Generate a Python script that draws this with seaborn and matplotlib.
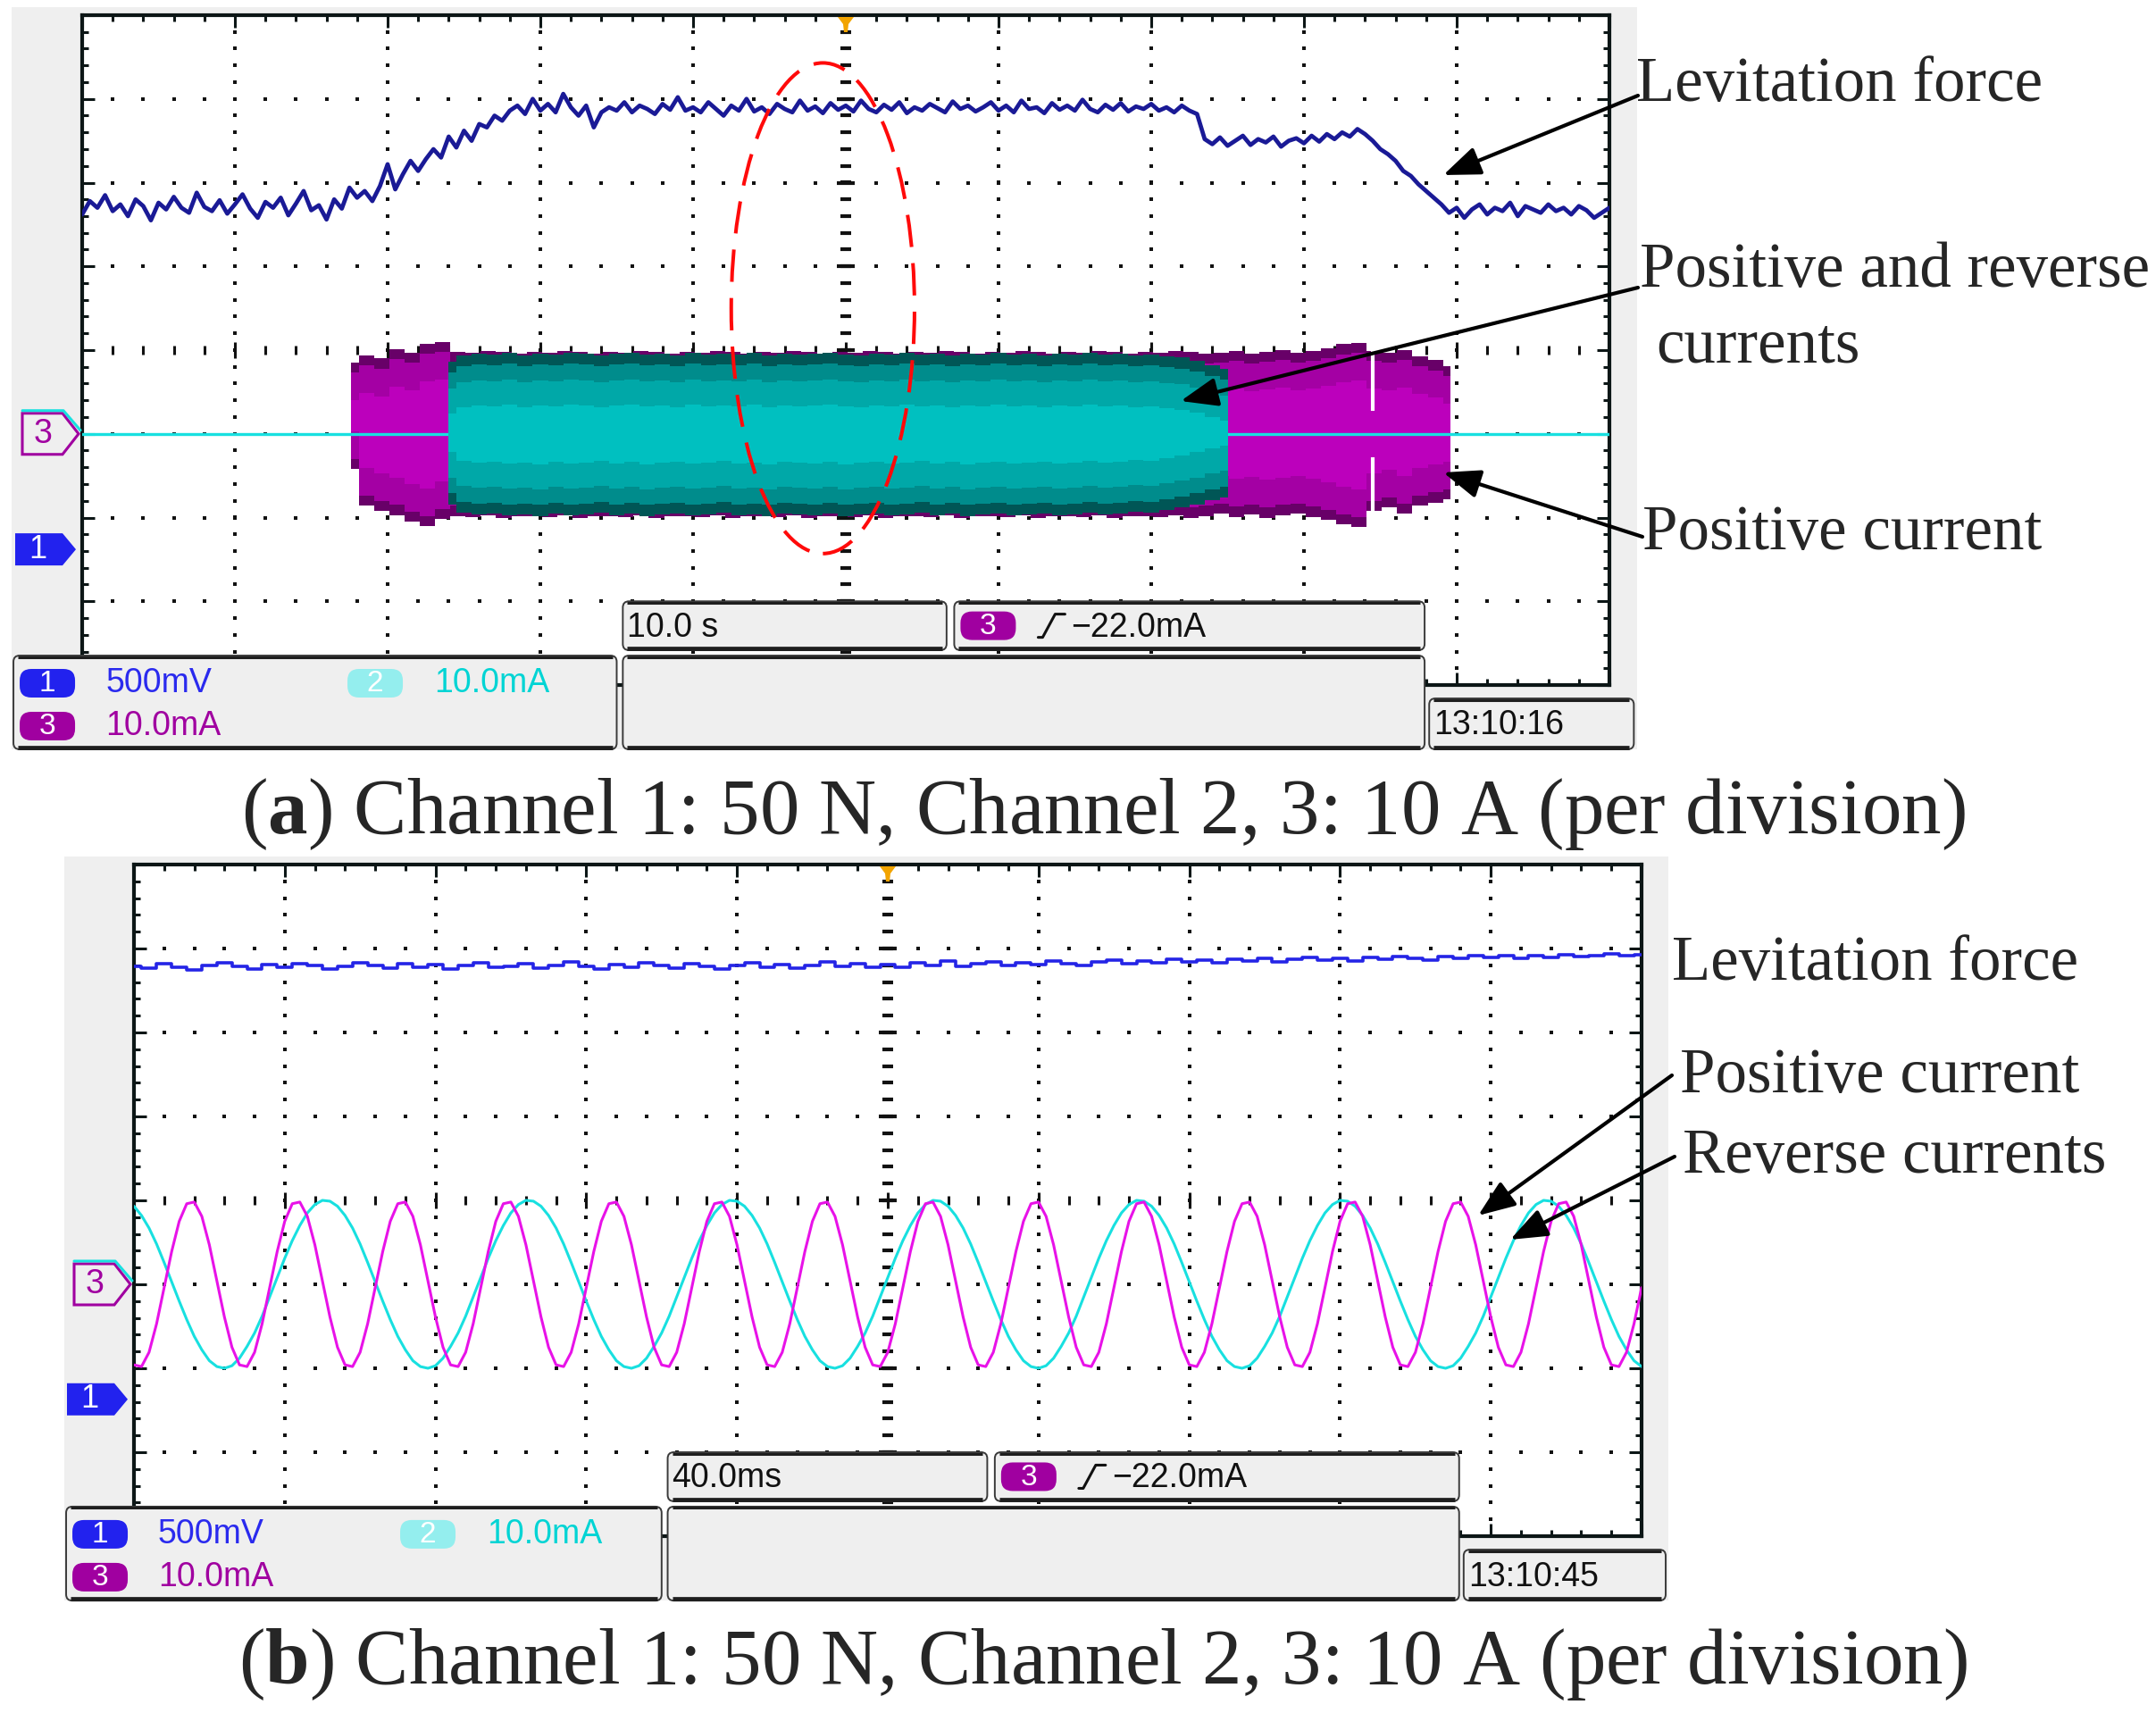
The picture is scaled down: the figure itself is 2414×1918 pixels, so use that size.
import numpy as np
import pandas as pd
import matplotlib
matplotlib.use("Agg")
import matplotlib.pyplot as plt
from matplotlib.patches import Rectangle, FancyBboxPatch, Polygon, Ellipse
import seaborn as sns

sns.set_style("white")
plt.rcParams["mathtext.fontset"] = "custom"
plt.rcParams["mathtext.rm"] = "Liberation Serif"
plt.rcParams["mathtext.bf"] = "Liberation Serif:bold"

SERIF = ["Liberation Serif", "DejaVu Serif"]
SCOPE = ["Liberation Sans Narrow", "Liberation Sans", "DejaVu Sans"]

# ---------- data, in screen divisions (10 x 8 graticule, 0 = centre line) ----------
sample_div = 0.05   # spacing of the stored samples along x

# (a) 10.0 s/div : channel 1, levitation force
force_a = [
    1.62, 1.78, 1.70, 1.85, 1.66, 1.74, 1.60, 1.80, 1.72, 1.55, 1.76, 1.68, 1.83, 1.70, 1.64, 1.88, 1.71, 1.66, 1.79, 1.63,
    1.74, 1.86, 1.69, 1.58, 1.77, 1.70, 1.82, 1.61, 1.75, 1.90, 1.67, 1.73, 1.56, 1.80, 1.69, 1.94, 1.82, 1.90, 1.78, 1.96,
    2.22, 1.92, 2.10, 2.26, 2.14, 2.28, 2.40, 2.30, 2.55, 2.42, 2.62, 2.50, 2.70, 2.66, 2.80, 2.74, 2.86, 2.92, 2.82, 3.00,
    2.86, 2.94, 2.84, 3.06, 2.90, 2.80, 2.92, 2.66, 2.84, 2.90, 2.86, 2.96, 2.84, 2.92, 2.88, 2.82, 2.94, 2.87, 3.02, 2.86,
    2.90, 2.84, 2.96, 2.88, 2.80, 2.92, 2.86, 3.00, 2.85, 2.90, 2.82, 2.94, 2.88, 2.84, 2.98, 2.86, 2.91, 2.83, 2.95, 2.87,
    2.92, 2.85, 2.98, 2.88, 2.84, 2.93, 2.87, 2.96, 2.83, 2.90, 2.86, 2.94, 2.89, 2.84, 2.97, 2.88, 2.92, 2.85, 2.90, 2.96,
    2.86, 2.92, 2.84, 2.98, 2.88, 2.90, 2.83, 2.95, 2.87, 2.92, 2.86, 2.99, 2.88, 2.84, 2.93, 2.87, 2.95, 2.85, 2.91, 2.88,
    2.94, 2.86, 2.90, 2.84, 2.92, 2.86, 2.82, 2.52, 2.46, 2.54, 2.44, 2.50, 2.56, 2.45, 2.52, 2.48, 2.55, 2.43, 2.50, 2.53,
    2.47, 2.56, 2.49, 2.58, 2.52, 2.60, 2.55, 2.64, 2.58, 2.50, 2.40, 2.34, 2.26, 2.14, 2.08, 1.98, 1.90, 1.82, 1.74, 1.64,
    1.70, 1.58, 1.68, 1.74, 1.62, 1.70, 1.66, 1.76, 1.60, 1.72, 1.68, 1.64, 1.74, 1.66, 1.70, 1.62, 1.72, 1.67, 1.58, 1.64,
    1.70,
]

# (a) current bursts, drawn as envelopes in 0.1 div columns
env_step = 0.1
pos_a_start = 1.76   # channel 3, positive current
pos_a_top = [
    -0.15, -0.06, -0.10, 0.01, -0.03, 0.08, 0.10,
    -0.02, -0.03, -0.01, -0.02, -0.04, -0.02, -0.03, -0.01, -0.02, -0.04,
    -0.02, -0.03, -0.01, -0.02, -0.04, -0.02, -0.03, -0.01, -0.02, -0.04,
    -0.02, -0.03, -0.01, -0.02, -0.04, -0.02, -0.03, -0.01, -0.02, -0.04,
    -0.02, -0.03, -0.01, -0.02, -0.04, -0.02, -0.03, -0.01, -0.02, -0.04,
    -0.02, -0.03, -0.01, -0.02, -0.04, -0.02, -0.03, -0.01, -0.02, -0.04,
    -0.03, -0.01, -0.04, -0.02, 0.00, -0.03, -0.01, 0.02, 0.07, 0.09, -0.01, -0.03, 0.00, -0.07, -0.12, -0.19,
]
pos_a_bot = [
    -1.42, -1.86, -1.92, -1.97, -2.05, -2.10, -2.02,
    -1.98, -1.99, -1.97, -2.00, -1.98, -1.98, -1.99, -1.97, -2.00, -1.98,
    -1.98, -1.99, -1.97, -2.00, -1.98, -1.98, -1.99, -1.97, -2.00, -1.98,
    -1.98, -1.99, -1.97, -2.00, -1.98, -1.98, -1.99, -1.97, -2.00, -1.98,
    -1.98, -1.99, -1.97, -2.00, -1.98, -1.98, -1.99, -1.97, -2.00, -1.98,
    -1.98, -1.99, -1.97, -2.00, -1.98, -1.98, -1.99, -1.97, -2.00, -1.98,
    -1.95, -1.99, -1.96, -2.00, -1.97, -1.95, -1.99, -2.03, -2.08, -2.11, -1.92, -1.88, -1.95, -1.86, -1.82, -1.78,
]
pos_a_dropout = (8.45, -0.73, -1.28)   # x, lower edge of top gap, upper edge of bottom gap

rev_a_start = 2.40   # channel 2, positive and reverse currents
rev_a_top = [
    -0.14, -0.06, -0.04, -0.05, -0.03, -0.06, -0.04, -0.05, -0.03, -0.04,
    -0.06, -0.04, -0.03, -0.05, -0.04, -0.06, -0.03, -0.05, -0.04, -0.05,
    -0.03, -0.06, -0.04, -0.05, -0.04, -0.03, -0.05, -0.06, -0.04, -0.05,
    -0.03, -0.05, -0.04, -0.06, -0.04, -0.05, -0.03, -0.05, -0.04, -0.06,
    -0.04, -0.05, -0.03, -0.05, -0.04, -0.06, -0.05, -0.07, -0.09, -0.13, -0.18, -0.22,
]
rev_a_bot = [
    -1.84, -1.94, -1.96, -1.95, -1.97, -1.96, -1.98, -1.95, -1.97, -1.96,
    -1.94, -1.97, -1.95, -1.98, -1.96, -1.95, -1.97, -1.96, -1.94, -1.97,
    -1.96, -1.98, -1.95, -1.96, -1.97, -1.95, -1.98, -1.96, -1.95, -1.97,
    -1.96, -1.94, -1.97, -1.95, -1.98, -1.96, -1.95, -1.97, -1.96, -1.95,
    -1.97, -1.96, -1.94, -1.96, -1.95, -1.93, -1.94, -1.91, -1.88, -1.84, -1.79, -1.76,
]

# (b) 40.0 ms/div : force sampled every 0.1 div, currents every 0.05 div
force_b_step = 0.1
force_b = [
    2.79, 2.77, 2.82, 2.78, 2.75, 2.80, 2.83, 2.79, 2.76, 2.81,
    2.78, 2.82, 2.80, 2.76, 2.79, 2.83, 2.80, 2.77, 2.82, 2.78,
    2.81, 2.76, 2.80, 2.83, 2.78, 2.79, 2.82, 2.77, 2.80, 2.84,
    2.79, 2.76, 2.81, 2.78, 2.83, 2.80, 2.77, 2.82, 2.79, 2.76,
    2.80, 2.83, 2.78, 2.81, 2.77, 2.80, 2.84, 2.79, 2.82, 2.78,
    2.81, 2.78, 2.83, 2.80, 2.85, 2.79, 2.82, 2.84, 2.80, 2.83,
    2.81, 2.85, 2.82, 2.80, 2.84, 2.86, 2.82, 2.85, 2.83, 2.87,
    2.84, 2.86, 2.83, 2.87, 2.85, 2.88, 2.84, 2.87, 2.89, 2.86,
    2.88, 2.85, 2.89, 2.87, 2.90, 2.88, 2.86, 2.90, 2.88, 2.91,
    2.89, 2.92, 2.88, 2.91, 2.89, 2.93, 2.90, 2.92, 2.94, 2.91,
    2.93,
]
pos_b = [
    -1.96, -1.98, -1.81, -1.47, -1.04, -0.61, -0.25, -0.04, -0.02, -0.19, -0.53, -0.96, -1.39, -1.75,
    -1.96, -1.98, -1.81, -1.47, -1.04, -0.61, -0.25, -0.04, -0.02, -0.19, -0.53, -0.96, -1.39, -1.75,
    -1.96, -1.98, -1.81, -1.47, -1.04, -0.61, -0.25, -0.04, -0.02, -0.19, -0.53, -0.96, -1.39, -1.75,
    -1.96, -1.98, -1.81, -1.47, -1.04, -0.61, -0.25, -0.04, -0.02, -0.19, -0.53, -0.96, -1.39, -1.75,
    -1.96, -1.98, -1.81, -1.47, -1.04, -0.61, -0.25, -0.04, -0.02, -0.19, -0.53, -0.96, -1.39, -1.75,
    -1.96, -1.98, -1.81, -1.47, -1.04, -0.61, -0.25, -0.04, -0.02, -0.19, -0.53, -0.96, -1.39, -1.75,
    -1.96, -1.98, -1.81, -1.47, -1.04, -0.61, -0.25, -0.04, -0.02, -0.19, -0.53, -0.96, -1.39, -1.75,
    -1.96, -1.98, -1.81, -1.47, -1.04, -0.61, -0.25, -0.04, -0.02, -0.19, -0.53, -0.96, -1.39, -1.75,
    -1.96, -1.98, -1.81, -1.47, -1.04, -0.61, -0.25, -0.04, -0.02, -0.19, -0.53, -0.96, -1.39, -1.75,
    -1.96, -1.98, -1.81, -1.47, -1.04, -0.61, -0.25, -0.04, -0.02, -0.19, -0.53, -0.96, -1.39, -1.75,
    -1.96, -1.98, -1.81, -1.47, -1.04, -0.61, -0.25, -0.04, -0.02, -0.19, -0.53, -0.96, -1.39, -1.75,
    -1.96, -1.98, -1.81, -1.47, -1.04, -0.61, -0.25, -0.04, -0.02, -0.19, -0.53, -0.96, -1.39, -1.75,
    -1.96, -1.98, -1.81, -1.47, -1.04, -0.61, -0.25, -0.04, -0.02, -0.19, -0.53, -0.96, -1.39, -1.75,
    -1.96, -1.98, -1.81, -1.47, -1.04, -0.61, -0.25, -0.04, -0.02, -0.19, -0.53, -0.96, -1.39, -1.75,
    -1.96, -1.98, -1.81, -1.47, -1.04,
]
rev_b = [
    -0.07, -0.18, -0.33, -0.52, -0.74, -0.97, -1.20, -1.42, -1.62, -1.78, -1.91, -1.98, -2.00, -1.97,
    -1.88, -1.74, -1.58, -1.38, -1.15, -0.92, -0.69, -0.48, -0.30, -0.15, -0.05, 0.00, -0.01,
    -0.07, -0.18, -0.33, -0.52, -0.74, -0.97, -1.20, -1.42, -1.62, -1.78, -1.91, -1.98, -2.00, -1.97,
    -1.88, -1.74, -1.58, -1.38, -1.15, -0.92, -0.69, -0.48, -0.30, -0.15, -0.05, 0.00, -0.01,
    -0.07, -0.18, -0.33, -0.52, -0.74, -0.97, -1.20, -1.42, -1.62, -1.78, -1.91, -1.98, -2.00, -1.97,
    -1.88, -1.74, -1.58, -1.38, -1.15, -0.92, -0.69, -0.48, -0.30, -0.15, -0.05, 0.00, -0.01,
    -0.07, -0.18, -0.33, -0.52, -0.74, -0.97, -1.20, -1.42, -1.62, -1.78, -1.91, -1.98, -2.00, -1.97,
    -1.88, -1.74, -1.58, -1.38, -1.15, -0.92, -0.69, -0.48, -0.30, -0.15, -0.05, 0.00, -0.01,
    -0.07, -0.18, -0.33, -0.52, -0.74, -0.97, -1.20, -1.42, -1.62, -1.78, -1.91, -1.98, -2.00, -1.97,
    -1.88, -1.74, -1.58, -1.38, -1.15, -0.92, -0.69, -0.48, -0.30, -0.15, -0.05, 0.00, -0.01,
    -0.07, -0.18, -0.33, -0.52, -0.74, -0.97, -1.20, -1.42, -1.62, -1.78, -1.91, -1.98, -2.00, -1.97,
    -1.88, -1.74, -1.58, -1.38, -1.15, -0.92, -0.69, -0.48, -0.30, -0.15, -0.05, 0.00, -0.01,
    -0.07, -0.18, -0.33, -0.52, -0.74, -0.97, -1.20, -1.42, -1.62, -1.78, -1.91, -1.98, -2.00, -1.97,
    -1.88, -1.74, -1.58, -1.38, -1.15, -0.92, -0.69, -0.48, -0.30, -0.15, -0.05, 0.00, -0.01,
    -0.07, -0.18, -0.33, -0.52, -0.74, -0.97, -1.20, -1.42, -1.62, -1.78, -1.91, -1.98,
]

ch3_level = [-1.0, -1.0]      # ground marker of channels 2/3, panels a and b
ch1_level = [-2.38, -2.37]    # ground marker of channel 1
ellipse_a = (4.85, 0.50, 1.20, 5.86)   # centre x, centre y, width, height

scale_labels = ["500mV", "10.0mA", "10.0mA"]
trigger_label = "\u221222.0mA"
timebase_labels = ["10.0 s", "40.0ms"]
clock_labels = ["13:10:16", "13:10:45"]
captions = [r"($\mathbf{a}$) Channel 1: 50 N, Channel 2, 3: 10 A (per division)",
            r"($\mathbf{b}$) Channel 1: 50 N, Channel 2, 3: 10 A (per division)"]

# ---------- colours ----------
INK = "#0c1616"
BLUE_A, BLUE_B = "#1a1a96", "#2424e6"
CYAN, MAG = "#18e0e0", "#e812e8"
PURPLE = "#a000a0"
GREY = "#efefef"

# ---------- figure, background and overlay layers in pixel units ----------
FW, FH = 2414, 1918
fig = plt.figure(figsize=(FW / 100, FH / 100), dpi=100)
fig.patch.set_facecolor("white")

bg = fig.add_axes([0, 0, 1, 1], zorder=-5)
ov = fig.add_axes([0, 0, 1, 1], zorder=5)
for a in (bg, ov):
    a.set_xlim(0, FW)
    a.set_ylim(FH, 0)
    a.axis("off")
ov.patch.set_visible(False)


def plot_axes(frame):
    x0, y0, x1, y1 = frame
    ax = fig.add_axes([x0 / FW, 1 - y1 / FH, (x1 - x0) / FW, (y1 - y0) / FH], zorder=0)
    ax.set_xlim(0, 10)
    ax.set_ylim(-4, 4)
    fx = np.arange(0, 10.001, 0.2)
    fy = np.arange(-4, 4.001, 0.2)
    ax.set_xticks(np.arange(0, 11))
    ax.set_xticks(fx, minor=True)
    ax.set_yticks(np.arange(-4, 5))
    ax.set_yticks(fy, minor=True)
    ax.tick_params(which="both", direction="in", top=True, right=True, bottom=True, left=True,
                   labelbottom=False, labelleft=False, color=INK, width=2.2)
    ax.tick_params(which="major", length=10)
    ax.tick_params(which="minor", length=5)
    for s in ax.spines.values():
        s.set_color(INK)
        s.set_linewidth(3)
    # dotted graticule
    dot = dict(ls="none", marker="s", ms=2.4, mew=0, color="#111111", zorder=1)
    for gx in (1, 2, 3, 4, 6, 7, 8, 9):
        ax.plot(np.full(fy.size, gx), fy, **dot)
    for gy in (-3, -2, -1, 1, 2, 3):
        ax.plot(fx, np.full(fx.size, gy), **dot)
    ax.plot(fx, np.zeros(fx.size), ls="none", marker="|", ms=6.5, mew=2.2, color="#111111", zorder=1)
    ax.plot(np.arange(1, 10), np.zeros(9), ls="none", marker="|", ms=13, mew=2.2, color="#111111", zorder=1)
    ax.plot(np.full(fy.size, 5), fy, ls="none", marker="_", ms=9, mew=3, color="#111111", zorder=1)
    ax.plot(np.full(7, 5), np.arange(-3, 4), ls="none", marker="_", ms=14, mew=3, color="#111111", zorder=1)
    return ax


def tidy(ax):
    ax.set_xlim(0, 10)
    ax.set_ylim(-4, 4)
    ax.set_xlabel("")
    ax.set_ylabel("")


def rbox(xl, yt, xr, yb, r=7):
    ov.add_patch(FancyBboxPatch((xl, yt), xr - xl, yb - yt,
                                boxstyle=f"round,pad=0,rounding_size={r}",
                                fc=GREY, ec="#3a3a3a", lw=1.4, zorder=2))
    ov.plot([xl + 5, xr - 5], [yt + 1.5, yt + 1.5], color="#1e1e1e", lw=2.2, zorder=3, solid_capstyle="butt")
    ov.plot([xl + 5, xr - 5], [yb - 2, yb - 2], color="#1e1e1e", lw=3.4, zorder=3, solid_capstyle="butt")


def badge(cx, cy, num, color):
    w, h = 62, 32
    ov.add_patch(FancyBboxPatch((cx - w / 2, cy - h / 2), w, h,
                                boxstyle="round,pad=0,rounding_size=13",
                                fc=color, ec="none", zorder=4))
    ov.text(cx, cy + 1, num, color="white", fontsize=24, ha="center", va="center", family=SCOPE, zorder=5)


def scope_chrome(frame, k):
    x0, y0, x1, y1 = frame
    W, H = x1 - x0, y1 - y0
    # grey scope window behind the graticule
    bg.add_patch(Rectangle((x0 - 0.046 * W, y0 - 0.012 * H), 1.064 * W, 1.108 * H, fc=GREY, ec="none"))

    # info boxes
    b1 = (x0 - 0.045 * W, y0 + 0.956 * H, x0 + 0.350 * W, y0 + 1.096 * H)
    b2 = (x0 + 0.354 * W, y0 + 0.875 * H, x0 + 0.566 * W, y0 + 0.948 * H)
    b3 = (x0 + 0.571 * W, y0 + 0.875 * H, x0 + 0.879 * W, y0 + 0.948 * H)
    b4 = (x0 + 0.354 * W, b1[1], x0 + 0.879 * W, b1[3])
    b5 = (x0 + 0.882 * W, y0 + 1.020 * H, x1 + 0.016 * W, b1[3])
    for b in (b1, b2, b3, b4, b5):
        rbox(*b)
    fs = 27
    r1, r2 = b1[1] + 31, b1[1] + 79
    badge(b1[0] + 38, r1, "1", "#2222ee")
    ov.text(b1[0] + 103, r1, scale_labels[0], color="#2a2aee", fontsize=fs, va="center", family=SCOPE, zorder=5)
    badge(b1[0] + 405, r1, "2", "#94eeee")
    ov.text(b1[0] + 471, r1, scale_labels[1], color="#00d4d4", fontsize=fs, va="center", family=SCOPE, zorder=5)
    badge(b1[0] + 38, r2, "3", PURPLE)
    ov.text(b1[0] + 103, r2, scale_labels[2], color=PURPLE, fontsize=fs, va="center", family=SCOPE, zorder=5)

    c2 = (b2[1] + b2[3]) / 2
    ov.text(b2[0] + 5, c2 + 2, timebase_labels[k], color="#111111", fontsize=fs, va="center", family=SCOPE, zorder=5)
    badge(b3[0] + 38, c2, "3", PURPLE)
    tx = b3[0] + 94
    ov.plot([tx, tx + 5, tx + 19, tx + 30], [c2 + 13, c2 + 13, c2 - 13, c2 - 13], color="#111111", lw=2.2, zorder=5)
    ov.text(b3[0] + 131, c2 + 2, trigger_label, color="#111111", fontsize=fs, va="center", family=SCOPE, zorder=5)
    ov.text(b5[0] + 5, (b5[1] + b5[3]) / 2 + 2, clock_labels[k], color="#111111", fontsize=fs,
            va="center", family=SCOPE, zorder=5)

    # ground markers on the left edge
    yc3 = y0 + (4 - ch3_level[k]) * H / 8
    ov.add_patch(Polygon([(x0 - 67, yc3 - 23), (x0 - 22, yc3 - 23), (x0 - 4, yc3), (x0 - 22, yc3 + 23),
                          (x0 - 67, yc3 + 23)], closed=True, fc=GREY, ec=PURPLE, lw=2.2, zorder=4))
    ov.plot([x0 - 67, x0 - 21, x0 - 2], [yc3 - 26, yc3 - 26, yc3 - 4], color=CYAN, lw=2.2, zorder=4)
    ov.text(x0 - 44, yc3, "3", color=PURPLE, fontsize=27, ha="center", va="center", family=SCOPE, zorder=5)
    yc1 = y0 + (4 - ch1_level[k]) * H / 8
    ov.add_patch(Polygon([(x0 - 75, yc1 - 18), (x0 - 22, yc1 - 18), (x0 - 7, yc1), (x0 - 22, yc1 + 18),
                          (x0 - 75, yc1 + 18)], closed=True, fc="#2222ee", ec="none", zorder=4))
    ov.text(x0 - 50, yc1, "1", color="white", fontsize=26, ha="center", va="center", family=SCOPE, zorder=5)

    # trigger position marker
    xc = x0 + W / 2
    ov.add_patch(Polygon([(xc - 9, y0 + 2), (xc + 9, y0 + 2), (xc + 3, y0 + 10), (xc + 2, y0 + 19),
                          (xc - 2, y0 + 19), (xc - 3, y0 + 10)], closed=True, fc="#f2a400", ec="none", zorder=4))

    # caption
    ov.text(FW / 2 + 28, y1 + 144, captions[k], fontsize=64, family=SERIF, ha="center", va="center", zorder=5)


def note(text, x, y):
    ov.text(x, y, text, fontsize=51, family=SERIF, ha="left", va="center", zorder=6)


def arrow(tail, head):
    ov.annotate("", xy=head, xytext=tail, zorder=6,
                arrowprops=dict(arrowstyle="-|>,head_length=0.9,head_width=0.35", color="black",
                                lw=3.0, shrinkA=0, shrinkB=0, mutation_scale=28))


# ======================= panel (a) =======================
frame_a = (92, 17, 1802, 767)
ax_a = plot_axes(frame_a)

t_pos = pos_a_start + env_step * np.arange(len(pos_a_top))
p_top, p_bot = np.array(pos_a_top), np.array(pos_a_bot)
ax_a.fill_between(t_pos, p_bot, p_top, step="mid", color="#680068", lw=0, zorder=2)
ax_a.fill_between(t_pos, p_bot + 0.12, p_top - 0.12, step="mid", color="#a400a4", lw=0, zorder=2)
ax_a.fill_between(t_pos, p_bot + 0.45, p_top - 0.45, where=(p_top - p_bot) > 1.0, step="mid",
                  color="#bc00bc", lw=0, zorder=2)
ax_a.vlines(pos_a_dropout[0], pos_a_dropout[1], 0.2, color="white", lw=3.0, zorder=2)
ax_a.vlines(pos_a_dropout[0], -2.2, pos_a_dropout[2], color="white", lw=3.0, zorder=2)

ax_a.axhline(ch3_level[0], color=CYAN, lw=2.4, zorder=3)

t_rev = rev_a_start + env_step * np.arange(len(rev_a_top))
r_top, r_bot = np.array(rev_a_top), np.array(rev_a_bot)
for off, col in ((0.0, "#005656"), (0.13, "#008c8c"), (0.32, "#00a8a8"), (0.62, "#00c0c0")):
    ax_a.fill_between(t_rev, r_bot + off, r_top - off, where=(r_top - r_bot) > 2 * off + 0.05,
                      step="mid", color=col, lw=0, zorder=4)

df_a = pd.DataFrame({"t": np.arange(len(force_a)) * sample_div, "force": force_a})
sns.lineplot(data=df_a, x="t", y="force", ax=ax_a, color=BLUE_A, linewidth=3.4,
             estimator=None, sort=False, legend=False, zorder=5)

cx, cy, ew, eh = ellipse_a
ax_a.add_patch(Ellipse((cx, cy), ew, eh, fill=False, ec="#ff0a0a", lw=2.9, ls=(0, (9, 4.5)), zorder=7))
tidy(ax_a)
scope_chrome(frame_a, 0)

note("Levitation force", 1832, 95)
note("Positive and reverse", 1836, 303)
note("currents", 1854, 388)
note("Positive current", 1839, 597)
arrow((1834, 107), (1616, 196))
arrow((1834, 322), (1322, 449))
arrow((1839, 601), (1616, 529))

# ======================= panel (b) =======================
frame_b = (150, 968, 1838, 1720)
ax_b = plot_axes(frame_b)

df_force_b = pd.DataFrame({"t": np.arange(len(force_b)) * force_b_step, "force": force_b})
sns.lineplot(data=df_force_b, x="t", y="force", ax=ax_b, color=BLUE_B, linewidth=2.6,
             drawstyle="steps-mid", estimator=None, sort=False, legend=False, zorder=5)

t_b = np.arange(len(rev_b)) * sample_div
df_cur = pd.DataFrame({"t": t_b, "reverse": rev_b, "positive": pos_b[:len(rev_b)]})
sns.lineplot(data=df_cur, x="t", y="reverse", ax=ax_b, color=CYAN, linewidth=2.2,
             estimator=None, sort=False, legend=False, zorder=3)
sns.lineplot(data=df_cur, x="t", y="positive", ax=ax_b, color=MAG, linewidth=2.2,
             estimator=None, sort=False, legend=False, zorder=4)
tidy(ax_b)
scope_chrome(frame_b, 1)

note("Levitation force", 1872, 1080)
note("Positive current", 1881, 1205)
note("Reverse currents", 1884, 1296)
arrow((1872, 1204), (1655, 1361))
arrow((1875, 1295), (1691, 1388))

fig.savefig("out.png", dpi=100, facecolor="white")
